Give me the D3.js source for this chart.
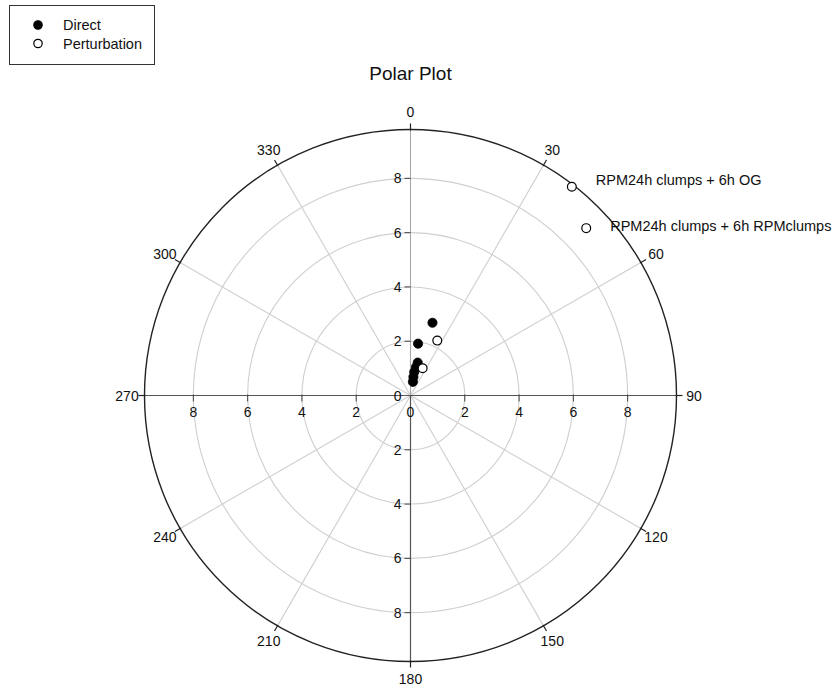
<!DOCTYPE html>
<html>
<head>
<meta charset="utf-8">
<script src="https://cdn.jsdelivr.net/npm/d3@7"></script>
<style>
  html, body { margin: 0; padding: 0; background: #fff; }
  svg text { font-family: "Liberation Sans", Arial, sans-serif; fill: #111; }
</style>
</head>
<body>
<svg id="chart" width="837" height="691"></svg>
<script>
// Series values: radius and angle (degrees, clockwise from north)
const directR      = [2.80, 1.93, 1.24, 1.07, 0.88, 0.69, 0.51];
const directTheta  = [16.8, 8.3, 12.4, 11, 9, 9, 10];
const perturbR     = [9.72, 8.94, 2.25, 1.10];
const perturbTheta = [37.7, 46.4, 26, 24];
const perturbNotes = ["RPM24h clumps + 6h OG", "RPM24h clumps + 6h RPMclumps", "", ""];

// Axis ticks
const radialTicks = [2, 4, 6, 8];
const angleTicks  = [0, 30, 60, 90, 120, 150, 180, 210, 240, 270, 300, 330];
const seriesNames = ["Direct", "Perturbation"];
const title = "Polar Plot";

const svg = d3.select("#chart");
const cx = 410.5, cy = 395.5;
const R = 266;
const rScale = d3.scaleLinear().domain([0, 9.8]).range([0, R]);
const aScale = d3.scaleLinear().domain([0, 360]).range([0, 2 * Math.PI]);
const px = (r, t) => cx + rScale(r) * Math.sin(aScale(t));
const py = (r, t) => cy - rScale(r) * Math.cos(aScale(t));
const ppx = (pix, t) => cx + pix * Math.sin(aScale(t));
const ppy = (pix, t) => cy - pix * Math.cos(aScale(t));

// Title
svg.append("text").attr("x", cx).attr("y", 80).attr("text-anchor", "middle")
  .style("font-size", "19px").text(title);

// Grid rings
const g = svg.append("g");
g.selectAll("circle.ring").data(radialTicks).join("circle")
  .attr("cx", cx).attr("cy", cy).attr("r", d => rScale(d))
  .attr("fill", "none").attr("stroke", "#cfcfcf").attr("stroke-width", 1.1);

// Spokes (non-axis angles)
g.selectAll("line.spoke").data(angleTicks.filter(a => a % 90 !== 0)).join("line")
  .attr("x1", cx).attr("y1", cy)
  .attr("x2", d => ppx(R, d)).attr("y2", d => ppy(R, d))
  .attr("stroke", "#cfcfcf").attr("stroke-width", 1.1);

// Upper vertical half drawn as a light spoke
g.append("line").attr("x1", cx).attr("y1", cy).attr("x2", cx).attr("y2", cy - R)
  .attr("stroke", "#a8a8a8").attr("stroke-width", 1.1);
// Axis lines
g.append("line").attr("x1", cx).attr("y1", cy).attr("x2", cx).attr("y2", cy + R)
  .attr("stroke", "#555").attr("stroke-width", 1.2);
g.append("line").attr("x1", cx - R).attr("y1", cy).attr("x2", cx + R).attr("y2", cy)
  .attr("stroke", "#555").attr("stroke-width", 1.2);

// Outer circle
g.append("circle").attr("cx", cx).attr("cy", cy).attr("r", R)
  .attr("fill", "none").attr("stroke", "#222").attr("stroke-width", 1.4);

// Angle ticks and labels
g.selectAll("line.atick").data(angleTicks).join("line")
  .attr("x1", d => ppx(R - 1, d)).attr("y1", d => ppy(R - 1, d))
  .attr("x2", d => ppx(R + 6, d)).attr("y2", d => ppy(R + 6, d))
  .attr("stroke", "#222").attr("stroke-width", 1.2);
g.selectAll("text.alabel").data(angleTicks).join("text")
  .attr("x", d => ppx(283.5, d)).attr("y", d => ppy(283.5, d))
  .attr("text-anchor", "middle").attr("dominant-baseline", "central")
  .style("font-size", "14px").text(d => d);

// Radial axis ticks/labels along the horizontal axis (both sides)
const hTicks = [];
radialTicks.forEach(v => { hTicks.push({v, s: -1}); hTicks.push({v, s: 1}); });
g.selectAll("line.htick").data(hTicks).join("line")
  .attr("x1", d => cx + d.s * rScale(d.v)).attr("x2", d => cx + d.s * rScale(d.v))
  .attr("y1", cy - 1).attr("y2", cy + 6)
  .attr("stroke", "#444").attr("stroke-width", 1);
g.selectAll("text.hlabel").data(hTicks.concat([{v: 0, s: 0}])).join("text")
  .attr("x", d => cx + d.s * rScale(d.v)).attr("y", cy + 21)
  .attr("text-anchor", "middle").style("font-size", "14px").text(d => d.v);

// Radial axis ticks/labels along the vertical axis (both sides)
const vTicks = [];
radialTicks.forEach(v => { vTicks.push({v, s: -1}); vTicks.push({v, s: 1}); });
g.selectAll("line.vtick").data(vTicks).join("line")
  .attr("x1", cx - 6).attr("x2", cx)
  .attr("y1", d => cy + d.s * rScale(d.v)).attr("y2", d => cy + d.s * rScale(d.v))
  .attr("stroke", "#444").attr("stroke-width", 1);
g.selectAll("text.vlabel").data(vTicks.concat([{v: 0, s: 0}])).join("text")
  .attr("x", cx - 9).attr("y", d => cy + d.s * rScale(d.v))
  .attr("text-anchor", "end").attr("dominant-baseline", "central")
  .style("font-size", "14px").text(d => d.v);

// Data points
const direct = directR.map((r, i) => ({r, t: directTheta[i]}));
const perturb = perturbR.map((r, i) => ({r, t: perturbTheta[i], note: perturbNotes[i]}));

svg.append("g").selectAll("circle").data(direct).join("circle")
  .attr("cx", d => px(d.r, d.t)).attr("cy", d => py(d.r, d.t)).attr("r", 4.6)
  .attr("fill", "#000").attr("stroke", "#000").attr("stroke-width", 0.8);

const pg = svg.append("g");
pg.selectAll("circle").data(perturb).join("circle")
  .attr("cx", d => px(d.r, d.t)).attr("cy", d => py(d.r, d.t)).attr("r", 4.4)
  .attr("fill", "#fff").attr("stroke", "#000").attr("stroke-width", 1.2);

// Point annotations
const noteOffsets = [[24, -7], [24, -2]];
pg.selectAll("text").data(perturb.filter(d => d.note)).join("text")
  .attr("x", (d, i) => px(d.r, d.t) + noteOffsets[i][0])
  .attr("y", (d, i) => py(d.r, d.t) + noteOffsets[i][1])
  .attr("dominant-baseline", "central")
  .style("font-size", "14.5px").text(d => d.note);

// Legend
const lg = svg.append("g");
lg.append("rect").attr("x", 9.5).attr("y", 5.5).attr("width", 145).attr("height", 59)
  .attr("fill", "#fff").attr("stroke", "#333").attr("stroke-width", 1);
const legendRows = seriesNames.map((name, i) => ({name, filled: i === 0, y: 25 + i * 18.5}));
lg.selectAll("circle").data(legendRows).join("circle")
  .attr("cx", 38).attr("cy", d => d.y).attr("r", 4.2)
  .attr("fill", d => d.filled ? "#000" : "#fff").attr("stroke", "#000").attr("stroke-width", 1.2);
lg.selectAll("text").data(legendRows).join("text")
  .attr("x", 63).attr("y", d => d.y).attr("dominant-baseline", "central")
  .style("font-size", "14.5px").text(d => d.name);
</script>
</body>
</html>
